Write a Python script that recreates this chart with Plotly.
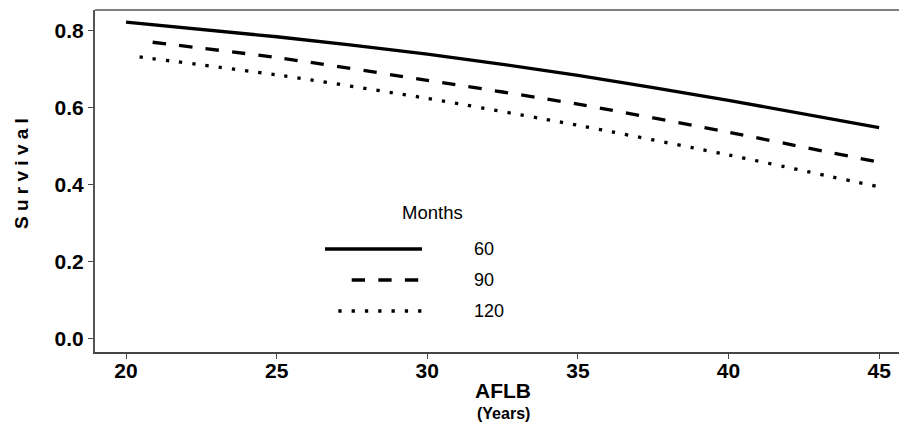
import plotly.graph_objects as go

# AFLB (years) and survival estimates at three follow-up times
aflb = [20, 25, 30, 35, 40, 45]
months = ["60", "90", "120"]
surv_60 = [0.823, 0.785, 0.740, 0.685, 0.620, 0.549]
surv_90 = [0.779, 0.731, 0.672, 0.610, 0.537, 0.459]
surv_120 = [0.737, 0.686, 0.625, 0.555, 0.478, 0.395]
x_ticks = [20, 25, 30, 35, 40, 45]
y_ticks = [0.0, 0.2, 0.4, 0.6, 0.8]
y_tick_text = ["0.0", "0.2", "0.4", "0.6", "0.8"]

# dash patterns begin with a gap, like the original plotting device
DASHED = "0px,26.7px," + ",".join(["13.3px,13.3px"] * 40)
DOTTED = "0px,13.3px," + ",".join(["3.3px,10px"] * 75)
styles = ["solid", DASHED, DOTTED]
series = [surv_60, surv_90, surv_120]

FONT = "Liberation Sans, Arial, Helvetica, sans-serif"
W, H = 899, 425
L, R, T, B = 95, 0, 10, 73
PW, PH = W - L - R, H - T - B


def px_x(x):
    return (x - L) / PW


def px_y(y):
    return (H - B - y) / PH


fig = go.Figure()
for name, ys, dash in zip(months, series, styles):
    fig.add_trace(go.Scatter(
        x=aflb, y=ys, mode="lines", name=name, showlegend=False,
        line=dict(color="black", width=3.3, dash=dash, shape="spline", smoothing=0.6),
        hoverinfo="skip",
    ))

# hand-drawn key in the lower left of the panel
shapes = []
annotations = []
key_rows = [249, 280, 311]
for name, dash, yy in zip(months, styles, key_rows):
    shapes.append(dict(type="line", xref="paper", yref="paper",
                       x0=px_x(325), x1=px_x(422), y0=px_y(yy), y1=px_y(yy),
                       line=dict(color="black", width=3.3, dash=dash)))
    annotations.append(dict(xref="paper", yref="paper", x=px_x(472), y=px_y(yy),
                            text=name, showarrow=False, xanchor="left", yanchor="middle",
                            font=dict(family=FONT, size=18, color="black")))
annotations.append(dict(xref="paper", yref="paper", x=px_x(432), y=px_y(212),
                        text="Months", showarrow=False, xanchor="center", yanchor="middle",
                        font=dict(family=FONT, size=18.5, color="black")))

# axis titles
annotations.append(dict(xref="paper", yref="paper", x=px_x(503), y=px_y(390),
                        text="AFLB", showarrow=False, xanchor="center", yanchor="middle",
                        font=dict(family=FONT, size=21, color="black", weight="bold")))
annotations.append(dict(xref="paper", yref="paper", x=px_x(503), y=px_y(413),
                        text="(Years)", showarrow=False, xanchor="center", yanchor="middle",
                        font=dict(family=FONT, size=16, color="black", weight="bold")))
annotations.append(dict(xref="paper", yref="paper", x=px_x(21), y=px_y(174),
                        text="S u r v i v a l", showarrow=False, textangle=-90,
                        xanchor="center", yanchor="middle",
                        font=dict(family=FONT, size=19, color="black", weight="bold")))

# top frame edge
shapes.append(dict(type="line", xref="paper", yref="paper", x0=0, x1=1, y0=1, y1=1,
                   line=dict(color="#808080", width=2)))

fig.update_layout(
    width=W, height=H,
    margin=dict(l=L, r=R, t=T, b=B, pad=0),
    paper_bgcolor="white", plot_bgcolor="white",
    shapes=shapes, annotations=annotations,
    showlegend=False,
    xaxis=dict(range=[18.97, 45.66], tickvals=x_ticks, ticks="outside", ticklen=5,
               tickcolor="#444", tickwidth=1, showline=True, linecolor="#444", linewidth=2,
               showgrid=False, zeroline=False, ticklabelstandoff=-6,
               tickfont=dict(family=FONT, size=21, color="black", weight="bold")),
    yaxis=dict(range=[-0.0338, 0.8545], tickvals=y_ticks, ticktext=y_tick_text,
               ticks="outside", ticklen=5, tickcolor="#444", tickwidth=1,
               showline=True, linecolor="#555", linewidth=2,
               showgrid=False, zeroline=False,
               tickfont=dict(family=FONT, size=21, color="black", weight="bold")),
)

fig.write_html("out.html")
